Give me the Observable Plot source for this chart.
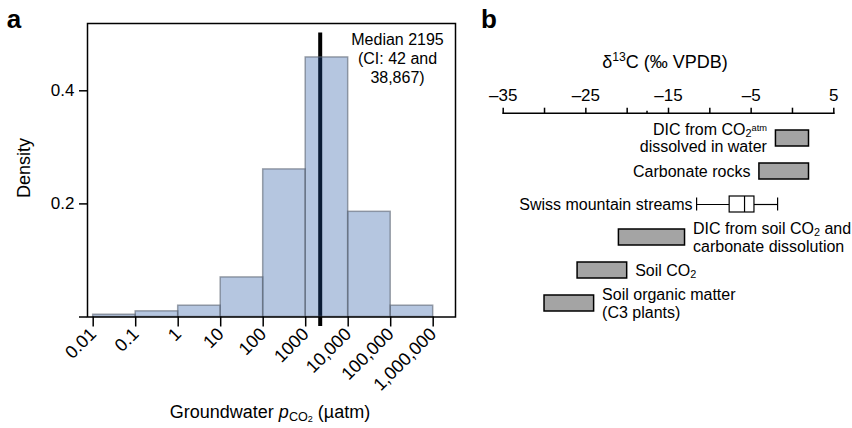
<!DOCTYPE html>
<html><head><meta charset="utf-8">
<script src="https://cdn.jsdelivr.net/npm/d3@7"></script>
<script src="https://cdn.jsdelivr.net/npm/@observablehq/plot@0.6"></script>
<style>
body{margin:0;background:#fff;}
#wrap{position:relative;width:852px;height:428px;overflow:hidden;font-family:"Liberation Sans",Arial,Helvetica,sans-serif;}
#pa{position:absolute;left:0;top:0;}
#pb{position:absolute;left:490px;top:0;}
svg{overflow:visible;}
</style></head><body>
<div id="wrap"><div id="pa"></div><div id="pb"></div></div>
<script>
// ---------- Panel a: groundwater pCO2 density histogram ----------
const binLower = [0.01, 0.1, 1, 10, 100, 1000, 10000, 100000];
const binUpper = [0.1, 1, 10, 100, 1000, 10000, 100000, 1000000];
const density  = [0.004, 0.010, 0.020, 0.070, 0.261, 0.459, 0.186, 0.020];
const medianPco2 = 2195;
const medianNote = "Median 2195\n(CI: 42 and\n38,867)";
const xTicksA = [0.01, 0.1, 1, 10, 100, 1000, 10000, 100000, 1000000];
const xTickLabelsA = ["0.01", "0.1", "1", "10", "100", "1000", "10,000", "100,000", "1,000,000"];
const yTicksA = [0, 0.2, 0.4];
const yTickLabelsA = ["", "0.2", "0.4"];

// ---------- Panel b: d13C of carbon sources ----------
const sources = [
  "DIC from CO2atm\ndissolved in water",
  "Carbonate rocks",
  "Swiss mountain streams",
  "DIC from soil CO2 and\ncarbonate dissolution",
  "Soil CO2",
  "Soil organic matter\n(C3 plants)"
];
const rangeLow  = [-2, -4, null, -21, -26, -30];
const rangeHigh = [ 2,  2, null, -13, -20, -24];
const labelSide = ["left", "left", "left", "right", "right", "right"];
const streamWhiskers = [-11.6, -1.8];
const streamQuartiles = [-7.6, -4.6];
const streamMedian = -5.8;
const xTicksB = [-35, -30, -25, -20, -15, -10, -5, 0, 5];
const xTickLabelsB = ["\u201335", "", "\u201325", "", "\u201315", "", "\u20135", "", "5"];
const minorTicksB = [-17.6];

const FONT = '"Liberation Sans", Arial, Helvetica, sans-serif';
const NS = "http://www.w3.org/2000/svg";

function richify(svg) {
  const walker = document.createTreeWalker(svg, NodeFilter.SHOW_TEXT);
  const nodes = [];
  while (walker.nextNode()) nodes.push(walker.currentNode);
  for (const node of nodes) {
    const s = node.nodeValue;
    if (!/CO2/.test(s)) continue;
    const parts = s.split(/(CO2atm|CO2)/);
    const frag = document.createDocumentFragment();
    for (const p of parts) {
      if (p === "CO2" || p === "CO2atm") {
        frag.appendChild(document.createTextNode("CO"));
        const sub = document.createElementNS(NS, "tspan");
        sub.setAttribute("baseline-shift", "-0.22em");
        sub.setAttribute("font-size", "68%");
        sub.textContent = "2";
        frag.appendChild(sub);
        if (p === "CO2atm") {
          const sup = document.createElementNS(NS, "tspan");
          sup.setAttribute("baseline-shift", "0.45em");
          sup.setAttribute("font-size", "58%");
          sup.textContent = "atm";
          frag.appendChild(sup);
        }
      } else if (p) {
        frag.appendChild(document.createTextNode(p));
      }
    }
    node.parentNode.replaceChild(frag, node);
  }
}

// ----- Panel a -----
const bins = binLower.map((lo, i) => ({lo, hi: binUpper[i], d: density[i]}));
const xLabA = new Map(xTicksA.map((t, i) => [t, xTickLabelsA[i]]));
const yLabA = new Map(yTicksA.map((t, i) => [t, yTickLabelsA[i]]));

const plotA = Plot.plot({
  width: 480, height: 428,
  marginLeft: 87, marginRight: 25, marginTop: 23, marginBottom: 111.5,
  style: {fontFamily: FONT, fontSize: "17px", color: "#000", background: "transparent"},
  x: {type: "log", domain: [Math.pow(10, -2.134), Math.pow(10, 6.525)]},
  y: {domain: [0, 0.519]},
  marks: [
    Plot.ruleX([medianPco2], {y1: -0.017, y2: 0.502, stroke: "#000", strokeWidth: 4}),
    Plot.rectY(bins, {x1: "lo", x2: "hi", y: "d", fill: "rgb(31,81,160)", fillOpacity: 0.33,
      stroke: "#5d6673", strokeOpacity: 0.6, strokeWidth: 1.5}),
    Plot.frame({stroke: "#000", strokeWidth: 1.5}),
    Plot.axisY({ticks: yTicksA, tickSize: 8, tickPadding: 5, tickFormat: d => yLabA.get(d), label: null, strokeWidth: 1.5}),
    Plot.axisX({ticks: xTicksA, tickSize: 10, tickPadding: 4, tickRotate: -45, tickFormat: d => xLabA.get(d), label: null,
      strokeWidth: 1.5, fontSize: 18}),
    Plot.text([medianNote], {frameAnchor: "top-right", dx: -58, dy: 7.6, textAnchor: "middle", lineAnchor: "top",
      lineHeight: 1.19, fontSize: 16, text: d => d, fill: "#000"})
  ]
});
{
  const s = d3.select(plotA);
  s.append("text").attr("x", 14).attr("y", 28).attr("font-size", 26).attr("font-weight", "bold")
    .attr("font-family", FONT).attr("fill", "#000").text("a");
  s.append("text").attr("transform", "translate(29.6,168) rotate(-90)").attr("text-anchor", "middle")
    .attr("font-size", 18).attr("font-family", FONT).attr("fill", "#000").text("Density");
  const t = s.append("text").attr("x", 270).attr("y", 418).attr("text-anchor", "middle")
    .attr("font-size", 18).attr("font-family", FONT).attr("fill", "#000");
  t.append("tspan").text("Groundwater ");
  t.append("tspan").attr("font-style", "italic").text("p");
  const sub = t.append("tspan").attr("baseline-shift", "-0.2em").attr("font-size", "70%").text("CO");
  sub.append("tspan").attr("baseline-shift", "-0.2em").attr("font-size", "72%").text("2");
  t.append("tspan").text(" (\u00b5atm)");
}
document.getElementById("pa").appendChild(plotA);

// ----- Panel b -----
const rows = sources.map((s, i) => ({s, lo: rangeLow[i], hi: rangeHigh[i], side: labelSide[i]}));
const ranged = rows.filter(d => d.lo != null);
const stream = sources[2];
const xLabB = new Map(xTicksB.map((t, i) => [t, xTickLabelsB[i]]));

const plotB = Plot.plot({
  width: 362, height: 428,
  marginLeft: 12.7, marginRight: 18.7, marginTop: 112.7, marginBottom: 20,
  style: {fontFamily: FONT, fontSize: "17px", color: "#000", background: "transparent"},
  x: {domain: [-35, 5]},
  y: {type: "band", domain: sources, range: [120.6, 319.2], paddingInner: 0.53, paddingOuter: 0.265, axis: null},
  marks: [
    Plot.frame({anchor: "top", stroke: "#000", strokeWidth: 1.5}),
    Plot.axisX({anchor: "top", ticks: xTicksB, tickSize: 6, tickPadding: 6, tickFormat: d => xLabB.get(d), label: null, strokeWidth: 1.5}),
    Plot.axisX({anchor: "top", ticks: minorTicksB, tickSize: 3, tickFormat: () => "", label: null, strokeWidth: 1.5}),
    Plot.barX(ranged, {x1: "lo", x2: "hi", y: "s", fill: "#a4a4a4", stroke: "#000", strokeWidth: 1.5}),
    Plot.ruleY([stream], {y: d => d, x1: streamWhiskers[0], x2: streamQuartiles[0], stroke: "#000", strokeWidth: 1.2}),
    Plot.ruleY([stream], {y: d => d, x1: streamQuartiles[1], x2: streamWhiskers[1], stroke: "#000", strokeWidth: 1.2}),
    Plot.tickX(streamWhiskers, {x: d => d, y: () => stream, insetTop: 1.5, insetBottom: 1.5, stroke: "#000", strokeWidth: 1.2}),
    Plot.barX([stream], {y: d => d, x1: streamQuartiles[0], x2: streamQuartiles[1], fill: "#fff", stroke: "#000", strokeWidth: 1.2}),
    Plot.tickX([streamMedian], {x: d => d, y: () => stream, stroke: "#000", strokeWidth: 1.2}),
    Plot.text(ranged.filter(d => d.side === "left"), {x: "lo", y: "s", text: "s", textAnchor: "end", dx: -9,
      fontSize: 16, lineHeight: 1.06, fill: "#000"}),
    Plot.text([stream], {x: () => streamWhiskers[0], y: d => d, text: d => d, textAnchor: "end", dx: -4,
      fontSize: 16, fill: "#000"}),
    Plot.text(ranged.filter(d => d.side === "right"), {x: "hi", y: "s", text: "s", textAnchor: "start", dx: 8,
      fontSize: 16, lineHeight: 1.08, fill: "#000"})
  ]
});
{
  const s = d3.select(plotB);
  s.append("text").attr("x", -1).attr("y", 28).attr("font-size", 26).attr("font-weight", "bold")
    .attr("font-family", FONT).attr("fill", "#000").text("b");
  const t = s.append("text").attr("x", 175).attr("y", 68).attr("text-anchor", "middle")
    .attr("font-size", 18).attr("font-family", FONT).attr("fill", "#000");
  t.append("tspan").text("\u03b4");
  t.append("tspan").attr("baseline-shift", "super").attr("font-size", "68%").text("13");
  t.append("tspan").text("C (\u2030 VPDB)");
}
richify(plotB);
document.getElementById("pb").appendChild(plotB);
</script>
</body></html>
